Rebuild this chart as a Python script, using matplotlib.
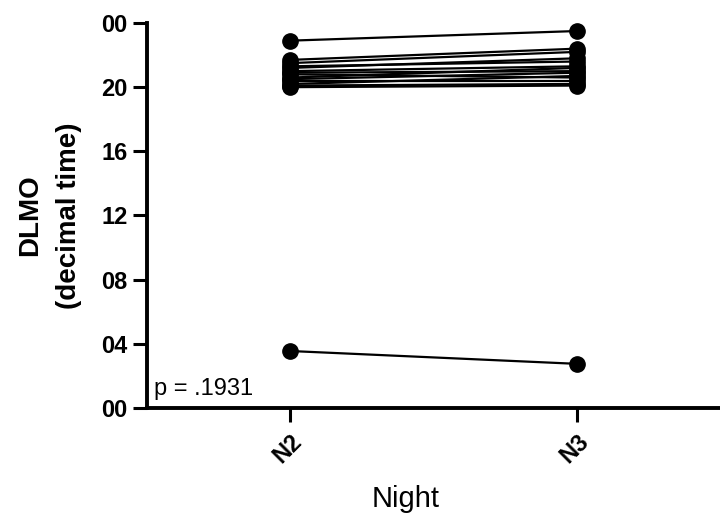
import matplotlib.pyplot as plt

plt.rcParams['font.family'] = ['Liberation Sans', 'DejaVu Sans']

# DLMO per participant on the two nights (decimal clock hours)
nights = ["N2", "N3"]
dlmo_n2 = [22.9, 21.7, 21.5, 21.3, 21.2, 21.0, 20.9, 20.8, 20.6, 20.5, 20.4, 20.2, 20.1, 20.0, 3.55]
dlmo_n3 = [23.5, 22.4, 22.2, 21.6, 21.8, 21.3, 21.0, 20.6, 21.2, 20.9, 20.4, 20.7, 20.2, 20.1, 2.75]

y_ticks = [0, 4, 8, 12, 16, 20, 24]
y_tick_labels = ["00", "04", "08", "12", "16", "20", "00"]

fig = plt.figure(figsize=(7.2, 5.23), dpi=100)
ax = fig.add_axes([0.204, 0.22, 0.796, 0.736])

for a, b in zip(dlmo_n2, dlmo_n3):
    ax.plot([0, 1], [a, b], color="black", linewidth=1.6, marker="o",
            markersize=11, clip_on=False)

ax.set_xlim(-0.5, 1.5)
ax.set_ylim(0, 24)
ax.set_xticks([0, 1])
ax.set_xticklabels(nights, rotation=45, ha="right", va="top",
                   fontsize=17, fontweight="bold", rotation_mode="anchor")
ax.set_yticks(y_ticks)
ax.set_yticklabels(y_tick_labels, fontsize=17, fontweight="bold")

for side in ["top", "right"]:
    ax.spines[side].set_visible(False)
for side in ["left", "bottom"]:
    ax.spines[side].set_linewidth(2.8)
ax.tick_params(axis="both", direction="out", length=10, width=2.2, pad=4)
ax.tick_params(axis="x", pad=6)

ax.set_ylabel("DLMO\n(decimal time)", fontsize=20, fontweight="bold",
              linespacing=1.65)
ax.yaxis.set_label_coords(-0.113, 0.5)
ax.set_xlabel("Night", fontsize=21)
ax.xaxis.set_label_coords(0.452, -0.2)

ax.text(0.012, 0.02, "p = .1931", transform=ax.transAxes, fontsize=17,
        ha="left", va="bottom")

fig.savefig("out.png", dpi=100)
